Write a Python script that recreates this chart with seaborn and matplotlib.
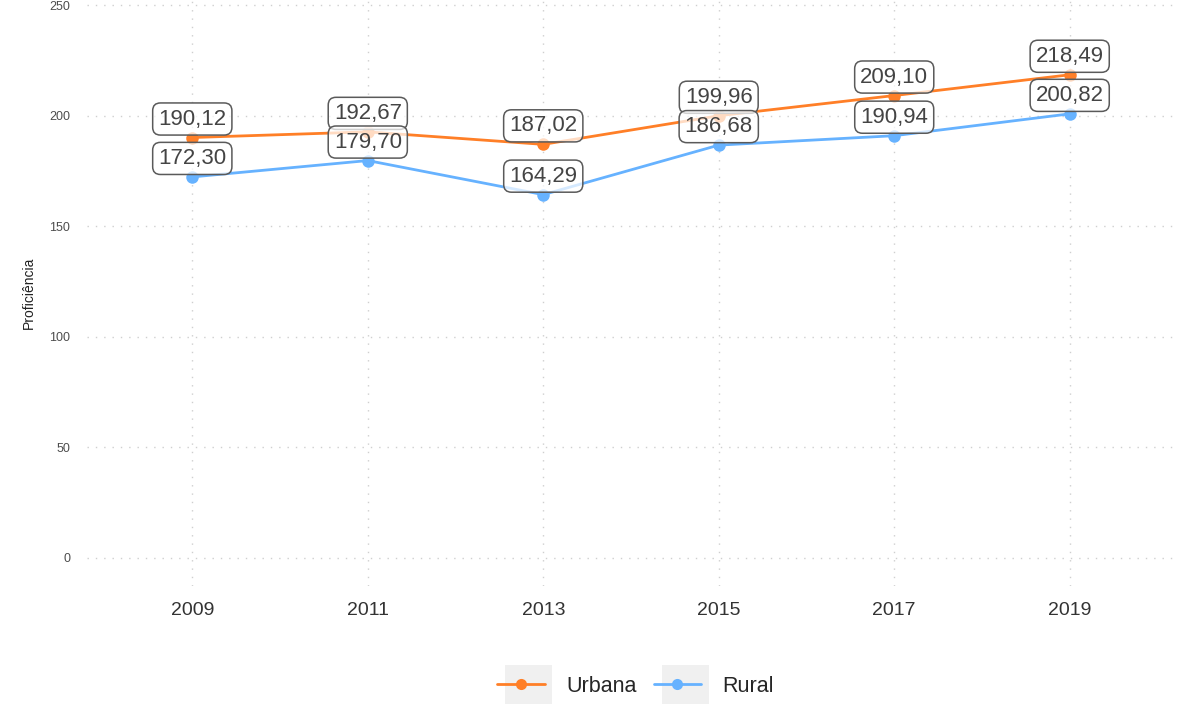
import matplotlib
matplotlib.use("Agg")
import matplotlib.pyplot as plt
import seaborn as sns
import pandas as pd
from matplotlib.lines import Line2D
from matplotlib.patches import Rectangle

anos = [2009, 2011, 2013, 2015, 2017, 2019]
urbana = [190.12, 192.67, 187.02, 199.96, 209.10, 218.49]
rural = [172.30, 179.70, 164.29, 186.68, 190.94, 200.82]
series = ["Urbana", "Rural"]
cores = {"Urbana": "#ff7f27", "Rural": "#66b2ff"}
yticks = [0, 50, 100, 150, 200, 250]

df = pd.DataFrame({
    "Ano": anos * 2,
    "Proficiência": urbana + rural,
    "Localização": ["Urbana"] * len(anos) + ["Rural"] * len(anos),
})

sns.set_style("white")
plt.rcParams['font.family'] = ['Liberation Sans', 'DejaVu Sans']

fig = plt.figure(figsize=(11.77, 7.04), dpi=100)
ax = fig.add_axes([87 / 1177, 1 - 585.6 / 704, (1175 - 87) / 1177, 585.6 / 704])

sns.lineplot(data=df, x="Ano", y="Proficiência", hue="Localização",
             hue_order=series, palette=cores, marker="o", markersize=9,
             markeredgewidth=0, linewidth=2, ax=ax, legend=False, zorder=3)

for _, row in df.iterrows():
    ax.annotate(f"{row['Proficiência']:.2f}".replace(".", ","),
                xy=(row["Ano"], row["Proficiência"]), xytext=(0, 18.5),
                textcoords="offset pixels",
                ha="center", va="center", fontsize=16, color="#444444",
                bbox=dict(boxstyle="round,pad=0.25,rounding_size=0.35",
                          fc=(1, 1, 1, 0.72), ec="#5a5a5a", lw=1.1), zorder=5)

ax.set_xlim(2007.8, 2020.2)
ax.set_ylim(-12.5, 252.3)
ax.set_xticks(anos)
ax.set_xticklabels([str(a) for a in anos], fontsize=14, color="#333333")
ax.set_yticks(yticks)
ax.set_yticklabels([str(v) for v in yticks], fontsize=9, color="#4d4d4d")
ax.tick_params(axis="both", length=0)
ax.tick_params(axis="x", pad=12)
ax.tick_params(axis="y", pad=12)
ax.set_xlabel("")
ax.set_ylabel("Proficiência", fontsize=10, color="#222222", labelpad=10)
ax.grid(True, color="#cfcfcf", linestyle=(0, (1, 5)), linewidth=1)
for s in ax.spines.values():
    s.set_visible(False)

handles = [Line2D([0], [0], color=cores[s], marker="o", markersize=8,
                  markeredgewidth=0, linewidth=2) for s in series]
leg = fig.legend(handles, series, loc="center", bbox_to_anchor=(0.54, 0.025),
                 ncol=2, frameon=False, fontsize=15.5, handlelength=2.2,
                 columnspacing=0.8, handletextpad=1.0)
fig.canvas.draw()
renderer = fig.canvas.get_renderer()
for t in leg.get_texts():
    bb = t.get_window_extent(renderer)
    x0 = bb.x0 - 61
    cy = (bb.y0 + bb.y1) / 2
    rect = Rectangle((x0 / 1177, (cy - 21) / 704), 47 / 1177, 42 / 704,
                     transform=fig.transFigure, fc="#f0f0f0", ec="none", zorder=0)
    fig.add_artist(rect)

fig.savefig("out.png", dpi=100)
